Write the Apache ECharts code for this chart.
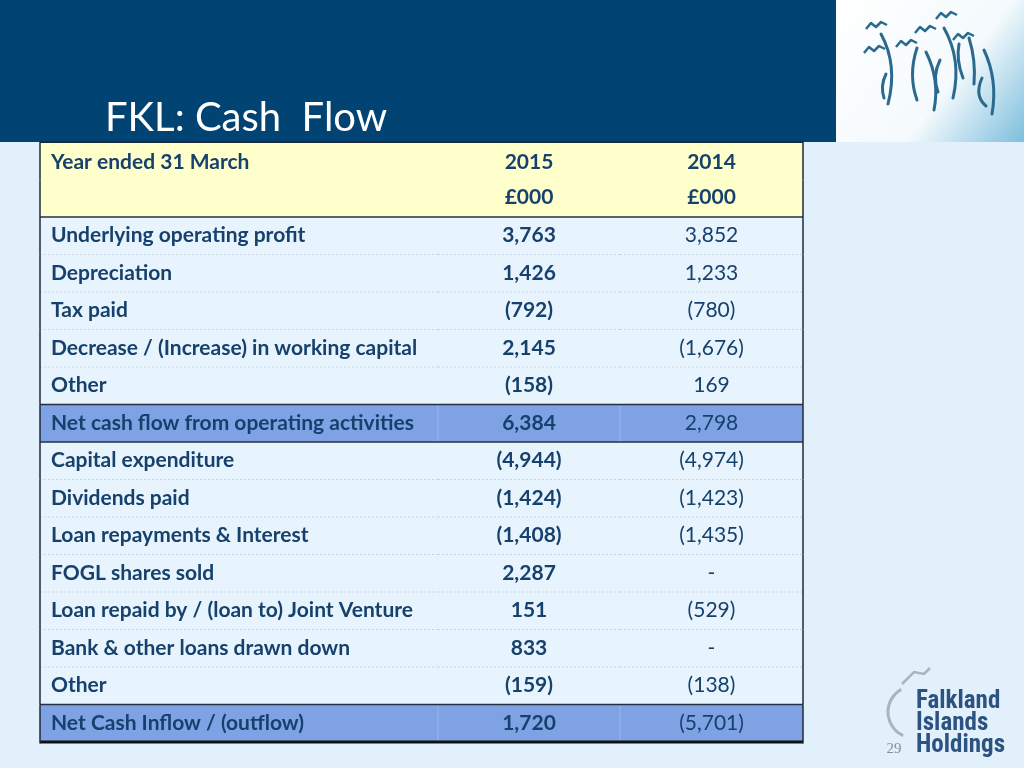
<!DOCTYPE html>
<html>
<head>
<meta charset="utf-8">
<script src="https://cdn.jsdelivr.net/npm/echarts@6/dist/echarts.min.js"></script>
<style>
  html, body { margin: 0; padding: 0; background: #E2F0FB; }
  #chart { width: 1024px; height: 768px; }
</style>
</head>
<body>
<div id="chart"></div>
<script>
// ---------- data ----------
const titleText = 'FKL: Cash  Flow';
const headerLabel = 'Year ended 31 March';
const years = ['2015', '2014'];
const unitLabel = '£000';
const rowLabels = [
  'Underlying operating profit',
  'Depreciation',
  'Tax paid',
  'Decrease / (Increase) in working capital',
  'Other',
  'Net cash flow from operating activities',
  'Capital expenditure',
  'Dividends paid',
  'Loan repayments & Interest',
  'FOGL shares sold',
  'Loan repaid by / (loan to) Joint Venture',
  'Bank & other loans drawn down',
  'Other',
  'Net Cash Inflow / (outflow)'
];
const values2015 = [3763, 1426, -792, 2145, -158, 6384, -4944, -1424, -1408, 2287, 151, 833, -159, 1720];
const values2014 = [3852, 1233, -780, -1676, 169, 2798, -4974, -1423, -1435, null, -529, null, -138, -5701];
const totalRowIndex = [5, 13];
const pageNumber = '29';

// ---------- layout / style constants ----------
const colEdges = [0, 398, 580, 763];   // column boundaries in x-axis units
const headerSlots = 2;
const font = 'Lato, "Open Sans", sans-serif';
const txtColor = '#16416C';

function fmt(n) {
  if (n === null || n === undefined) return '-';
  const s = Math.abs(n).toLocaleString('en-US');
  return n < 0 ? '(' + s + ')' : s;
}

const slotIds = [];
for (let i = 0; i < headerSlots + rowLabels.length; i++) slotIds.push('s' + i);

function slotKind(s) {
  if (s < headerSlots) return 'header';
  return totalRowIndex.indexOf(s - headerSlots) >= 0 ? 'total' : 'normal';
}

const cells = [];
for (let s = 0; s < slotIds.length; s++) {
  for (let c = 0; c < 3; c++) {
    let text = '', bold = true;
    if (s === 0) text = [headerLabel, years[0], years[1]][c];
    else if (s === 1) text = ['', unitLabel, unitLabel][c];
    else {
      const r = s - headerSlots;
      if (c === 0) text = rowLabels[r];
      else if (c === 1) text = fmt(values2015[r]);
      else { text = fmt(values2014[r]); bold = false; }
    }
    cells.push({ value: [c, s], text: text, bold: bold, kind: slotKind(s) });
  }
}

function renderItem(params, api) {
  const cell = cells[params.dataIndex];
  const c = api.value(0), s = api.value(1);
  const x0 = api.coord([colEdges[c], s])[0];
  const x1 = api.coord([colEdges[c + 1], s])[0];
  const yc = api.coord([0, s])[1];
  const h = api.size([0, 1])[1];
  const y0 = yc - h / 2, y1 = yc + h / 2;
  const fills = { header: '#FFFFCC', normal: '#E7F3FD', total: '#7FA2E5' };
  const children = [];
  children.push({ type: 'rect', shape: { x: x0, y: y0, width: x1 - x0, height: h },
    style: { fill: fills[cell.kind] }, z2: 0 });
  const last = s === slotIds.length - 1;
  const nextKind = last ? null : slotKind(s + 1);
  let bStyle;
  if (last) bStyle = { stroke: '#111', lineWidth: 3 };
  else if (s === 0) bStyle = null;
  else if (s === 1 || cell.kind === 'total' || nextKind === 'total') bStyle = { stroke: '#263040', lineWidth: 1.5 };
  else bStyle = { stroke: '#C9D6E2', lineWidth: 1, lineDash: [2, 2] };
  if (bStyle) children.push({ type: 'line', shape: { x1: x0, y1: y1, x2: x1, y2: y1 }, style: bStyle, z2: 5 });
  if (s === 0) children.push({ type: 'line', shape: { x1: x0, y1: y0, x2: x1, y2: y0 }, style: { stroke: '#1E2A38', lineWidth: 2 }, z2: 5 });
  if (c === 0) children.push({ type: 'line', shape: { x1: x0, y1: y0, x2: x0, y2: y1 + (last ? 1.5 : 0) }, style: { stroke: '#1E2A38', lineWidth: 1.5 }, z2: 6 });
  if (c === 2) children.push({ type: 'line', shape: { x1: x1, y1: y0, x2: x1, y2: y1 + (last ? 1.5 : 0) }, style: { stroke: '#1E2A38', lineWidth: 1.5 }, z2: 6 });
  if (c > 0 && cell.kind === 'total') children.push({ type: 'line', shape: { x1: x0, y1: y0 + 1, x2: x0, y2: y1 - 1 }, style: { stroke: '#9DB6EC', lineWidth: 1 }, z2: 4 });
  if (cell.text) {
    const dy = s === 0 ? 1.5 : (s === 1 ? -1 : -0.5);
    children.push({ type: 'text', z2: 10,
      style: {
        text: cell.text,
        x: c === 0 ? x0 + 11 : (x0 + x1) / 2,
        y: yc + dy,
        align: c === 0 ? 'left' : 'center',
        verticalAlign: 'middle',
        fill: txtColor,
        font: (cell.bold ? 'bold ' : '') + '21px ' + font
      } });
  }
  return { type: 'group', children: children };
}

const logoStroke = '#2A6A8E';
function curve(p) {
  return { type: 'bezierCurve', shape: { x1: p[0], y1: p[1], cpx1: p[2], cpy1: p[3], x2: p[4], y2: p[5] },
    style: { stroke: logoStroke, lineWidth: 3, fill: null, lineCap: 'round' } };
}
function bird(x, y) {
  return { type: 'polyline', shape: { points: [[x - 10, y + 5], [x - 5, y - 1], [x, y + 3], [x + 5, y - 2], [x + 11, y + 1]] },
    style: { stroke: logoStroke, lineWidth: 2.5, fill: null, lineJoin: 'round' } };
}

const chart = echarts.init(document.getElementById('chart'));
chart.setOption({
  backgroundColor: '#E2F0FB',
  animation: false,
  grid: { left: 40, top: 142, width: 763, height: 600 },
  xAxis: { type: 'value', min: 0, max: colEdges[3], show: false },
  yAxis: { type: 'category', data: slotIds, inverse: true, show: false },
  graphic: [
    { type: 'rect', shape: { x: 0, y: 0, width: 836, height: 142 }, style: { fill: '#014373' }, z: -1 },
    { type: 'rect', shape: { x: 836, y: 0, width: 188, height: 142 },
      style: { fill: { type: 'linear', x: 0, y: 0, x2: 1, y2: 1, colorStops: [
        { offset: 0, color: '#FFFFFF' }, { offset: 0.6, color: '#F4FAFD' }, { offset: 1, color: '#7DBEDD' }] } }, z: -1 },
    { type: 'group', z: 1, children: [
      curve([881, 34, 898, 65, 888, 104]),
      curve([886, 74, 880, 86, 884, 98]),
      curve([917, 48, 908, 75, 917, 100]),
      curve([926, 52, 940, 80, 934, 110]),
      curve([940, 60, 932, 76, 938, 92]),
      curve([944, 28, 962, 60, 953, 98]),
      curve([959, 44, 956, 60, 963, 78]),
      curve([969, 38, 976, 60, 974, 84]),
      curve([984, 50, 998, 80, 992, 114]),
      curve([982, 78, 974, 96, 986, 106]),
      bird(876, 24), bird(874, 48), bird(906, 42), bird(925, 28), bird(946, 14), bird(963, 35)
    ] },
    { type: 'text', z: 2, style: { text: titleText, x: 105, y: 118, verticalAlign: 'middle',
      fill: '#FFFFFF', font: '40px ' + font } },
    { type: 'arc', z: 1, shape: { cx: 914, cy: 712, r: 26, startAngle: 2.0, endAngle: 4.2 }, style: { stroke: '#A8B4BE', lineWidth: 3, fill: null } },
    { type: 'polyline', z: 1, shape: { points: [[902, 684], [914, 672], [924, 674], [930, 668]] }, style: { stroke: '#A8B4BE', lineWidth: 2.5, fill: null } },
    { type: 'text', z: 2, style: { text: 'Falkland', x: 916, y: 702, verticalAlign: 'middle', fill: '#2B5281',
      font: 'bold 25px "Liberation Sans Narrow", "Roboto Condensed", Roboto, sans-serif' } },
    { type: 'text', z: 2, style: { text: 'Islands', x: 916, y: 724, verticalAlign: 'middle', fill: '#2B5281',
      font: 'bold 25px "Liberation Sans Narrow", "Roboto Condensed", Roboto, sans-serif' } },
    { type: 'text', z: 2, style: { text: 'Holdings', x: 916, y: 746, verticalAlign: 'middle', fill: '#2B5281',
      font: 'bold 25px "Liberation Sans Narrow", "Roboto Condensed", Roboto, sans-serif' } },
    { type: 'text', z: 2, style: { text: pageNumber, x: 894, y: 749, align: 'center', verticalAlign: 'middle', fill: '#8A8F95',
      font: '15px "Liberation Serif", "DejaVu Serif", serif' } }
  ],
  series: [{
    type: 'custom',
    renderItem: renderItem,
    data: cells.map(function (d) { return d.value; }),
    encode: { x: 0, y: 1 },
    silent: true
  }]
});
</script>
</body>
</html>
